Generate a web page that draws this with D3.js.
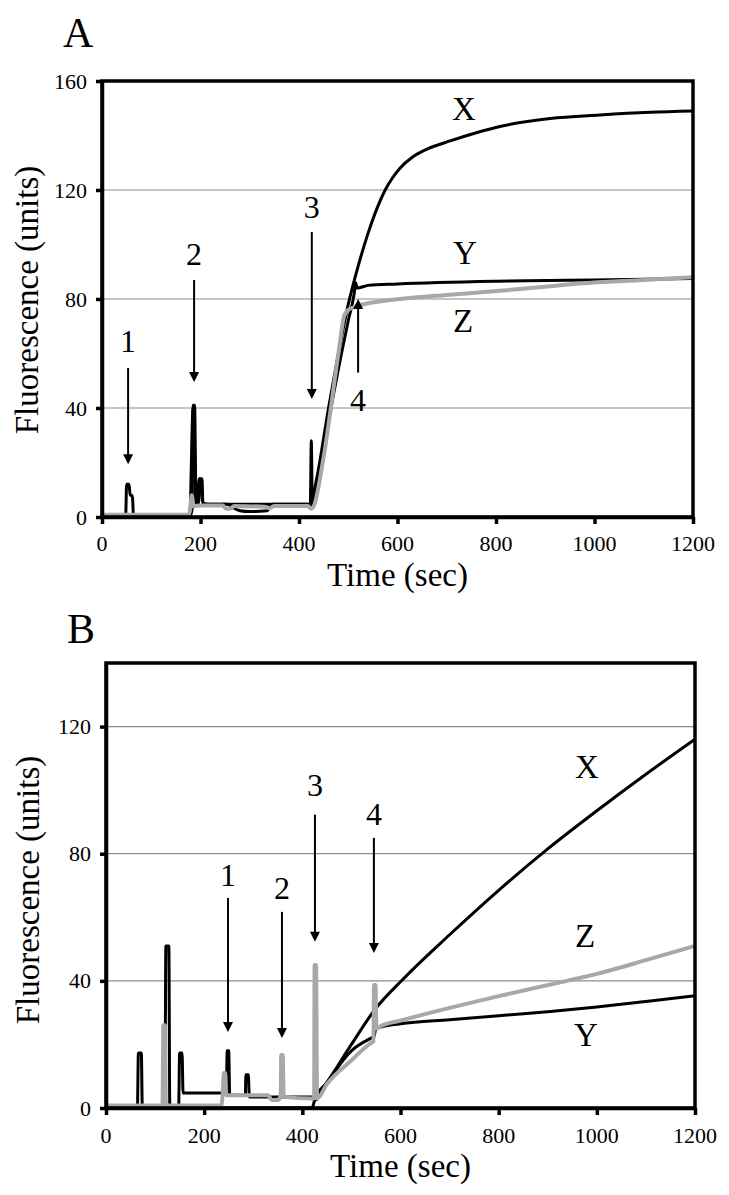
<!DOCTYPE html>
<html><head><meta charset="utf-8">
<script src="https://cdn.jsdelivr.net/npm/d3@7"></script>
<style>body{margin:0;background:#fff}svg{display:block}</style>
</head><body>
<svg id="c" width="729" height="1195"></svg>
<script>
// ---------- data ----------
const xTicks = [0, 200, 400, 600, 800, 1000, 1200];
const aYTicks = [0, 40, 80, 120, 160];
const bYTicks = [0, 40, 80, 120];

// Panel A  [time (sec), fluorescence (units)]
const aX = [[0,0],[48,0],[50,12],[55,12],[57,8],[60,8],[62,7],[64,0],[178,0],[183,3],[185,41],[188,41],[191,5],[196,5],[198,14],[203,14],[205,5],[215,4.7],[255,4.7],[265,3.5],[280,2.3],[300,2],[335,2.3],[345,4.7],[415,4.7],[423,4.5],[425,28],[427,4],[430,8],[440,18],[460,40],[480,60],[500,78],[520,92],[540,104],[560,114],[575,120],[590,124.5],[605,128],[630,132],[660,135],[707,138],[760,141],[808,143.3],[910,146.2],[1011,147.5],[1113,148.5],[1200,149]];
const aY = [[0,0],[178,0],[185,40],[191,5],[198,14],[205,5],[215,4.7],[420,4.7],[425,5],[440,15],[470,45],[500,72],[512,82],[515,86],[518,84],[540,85],[600,85.5],[800,86.5],[1000,87],[1200,87.5]];
const aZ = [[0,0.8],[176,0.8],[180,4],[182,8],[186,4],[200,4.2],[245,4.2],[252,3],[262,3.2],[268,4],[330,3.8],[340,3.2],[350,4],[418,4],[425,3],[430,4],[450,22],[480,60],[492,74],[500,76],[520,77.5],[560,79],[605,80],[700,81.5],[808,83],[900,84.5],[970,85.7],[1100,87],[1200,88]];

// Panel B
const bX = [[0,0],[64,0],[66,17.3],[72,17.3],[74,0],[120,0],[122,51],[128,51],[130,0],[148,0],[150,17.3],[155,17.3],[157,4.7],[245,4.7],[247,18],[250,18],[252,4],[284,4],[285,10.5],[290,10.5],[292,3.5],[420,3.5],[425,2.5],[450,8],[500,20],[548,31],[605,40.5],[700,54.5],[800,68.5],[900,81.5],[1000,93.5],[1100,105],[1200,116]];
const bY = [[0,0],[420,0],[425,2.5],[450,8],[500,18],[540,22],[546,22.5],[550,25],[600,26.5],[700,27.8],[800,29],[900,30.3],[1000,31.8],[1100,33.5],[1200,35.3]];
const bZ = [[0,0.8],[115,0.8],[117,26],[120,26],[122,0.8],[235,0.8],[238,5],[240,11],[243,11],[245,4],[330,4],[338,2.5],[350,2.5],[356,4],[357,16.7],[360,16.7],[362,3.5],[420,3],[424,3],[425,45],[428,45],[430,3],[450,7.5],[500,15],[540,20.5],[545,21],[546,38.7],[549,38.7],[551,25],[560,25.8],[600,27.5],[700,31.5],[800,35.2],[939,40],[1000,42.2],[1100,46.5],[1200,51]];

// arrows: [label, time, shaft start value, tip value, label value]
const aArrows = [["1",53,54.7,19.4,60.5],["2",187,87,49.5,92.5],["3",426,104.6,43.3,109.7],["4",520,53,80,39]];
const bArrows = [["1",248.5,66.1,23.9,69.9],["2",358.5,61.7,22,65.8],["3",425.7,92.3,52.3,98.3],["4",545.8,85,48.8,89.1]];
// series labels: [text, time, value]
const aLabels = [["X",735,145.7],["Y",737,92.8],["Z",733,67.9]];
const bLabels = [["X",980,103.9],["Z",976,50.7],["Y",978,19.5]];

// ---------- drawing ----------
const FONT = "Liberation Serif";
const svg = d3.select('#c');
svg.append('rect').attr('width',729).attr('height',1195).attr('fill','#fff');

function panel(o){
  const g = svg.append('g').attr('font-family', FONT);
  const x = d3.scaleLinear().domain([0,1200]).range([o.left,o.right]);
  const y = d3.scaleLinear().domain([0,o.ymax]).range([o.bottom,o.top]);

  g.selectAll('line.grid').data(o.yTicks.filter(v => v > 0 && v < o.ymax)).join('line')
    .attr('x1',o.left).attr('x2',o.right).attr('y1',d=>y(d)).attr('y2',d=>y(d))
    .attr('stroke','#8c8c8c').attr('stroke-width',1.2);

  const line = d3.line().x(d=>x(d[0])).y(d=>y(d[1])).curve(d3.curveMonotoneX);
  o.series.forEach(s => {
    g.append('path').attr('d', line(s.data)).attr('fill','none')
      .attr('stroke', s.color).attr('stroke-width', s.w)
      .attr('stroke-linejoin','round').attr('stroke-linecap','butt');
  });

  // frame
  g.append('rect').attr('x',o.left).attr('y',o.top).attr('width',o.right-o.left).attr('height',o.bottom-o.top)
    .attr('fill','none').attr('stroke','#000').attr('stroke-width',3.5);

  const ax = g.append('g').attr('transform',`translate(0,${o.bottom})`)
    .call(d3.axisBottom(x).tickValues(xTicks).tickSize(7).tickSizeOuter(0).tickFormat(() => ''));
  const ay = g.append('g').attr('transform',`translate(${o.left},0)`)
    .call(d3.axisLeft(y).tickValues(o.yTicks).tickSize(6).tickSizeOuter(0).tickFormat(() => ''));
  [ax, ay].forEach(a => {
    a.select('.domain').attr('stroke','#000').attr('stroke-width',3.5);
    a.selectAll('.tick line').attr('stroke','#000').attr('stroke-width',3.5);
    a.selectAll('.tick text').remove();
  });
  // tick labels (serif)
  g.selectAll('text.xt').data(xTicks).join('text').attr('class','xt')
    .attr('x', d => x(d)).attr('y', o.bottom + o.xLabOff).attr('text-anchor','middle')
    .attr('font-family', FONT).attr('font-size', 22).text(d => d);
  g.selectAll('text.yt').data(o.yTicks).join('text').attr('class','yt')
    .attr('x', o.left - 15).attr('y', d => y(d) + 7.5).attr('text-anchor','end')
    .attr('font-family', FONT).attr('font-size', 22).text(d => d);

  // arrows
  o.arrows.forEach(([lab,t,v0,v1,vl]) => {
    const px = x(t), y0 = y(v0), y1 = y(v1);
    const dir = y1 > y0 ? 1 : -1;
    g.append('line').attr('x1',px).attr('x2',px).attr('y1',y0).attr('y2',y1 - dir*8)
      .attr('stroke','#000').attr('stroke-width',2);
    g.append('path').attr('d',`M${px},${y1}L${px-5},${y1-dir*10}L${px+5},${y1-dir*10}Z`).attr('fill','#000');
    g.append('text').attr('x',px).attr('y',y(vl)).attr('text-anchor','middle')
      .attr('font-size',32).text(lab);
  });
  o.labels.forEach(([lab,t,v]) => {
    g.append('text').attr('x',x(t)).attr('y',y(v)).attr('text-anchor','middle').attr('font-size',33).text(lab);
  });

  // titles
  g.append('text').attr('x',o.titleX).attr('y',o.titleY).attr('font-size',42).text(o.title);
  g.append('text').attr('x',(o.left+o.right)/2).attr('y',o.xTitleY).attr('text-anchor','middle')
    .attr('font-size',33).text('Time (sec)');
  g.append('text').attr('transform',`translate(${o.yTitleX},${o.yTitleC}) rotate(-90)`)
    .attr('text-anchor','middle').attr('font-size',33).text('Fluorescence (units)');
}

panel({left:102,right:693,top:81,bottom:517,ymax:160,yTicks:aYTicks,xLabOff:34,
  series:[{data:aX,color:'#000',w:3},{data:aY,color:'#000',w:3},{data:aZ,color:'#a8a8a8',w:4}],
  arrows:aArrows,labels:aLabels,title:'A',titleX:63,titleY:47,xTitleY:586,yTitleX:38,yTitleC:300});
panel({left:106,right:695,top:663,bottom:1108,ymax:140,yTicks:bYTicks,xLabOff:35,
  series:[{data:bX,color:'#000',w:3},{data:bY,color:'#000',w:3},{data:bZ,color:'#a8a8a8',w:4}],
  arrows:bArrows,labels:bLabels,title:'B',titleX:67,titleY:643,xTitleY:1177,yTitleX:39,yTitleC:890});
</script>
</body></html>
